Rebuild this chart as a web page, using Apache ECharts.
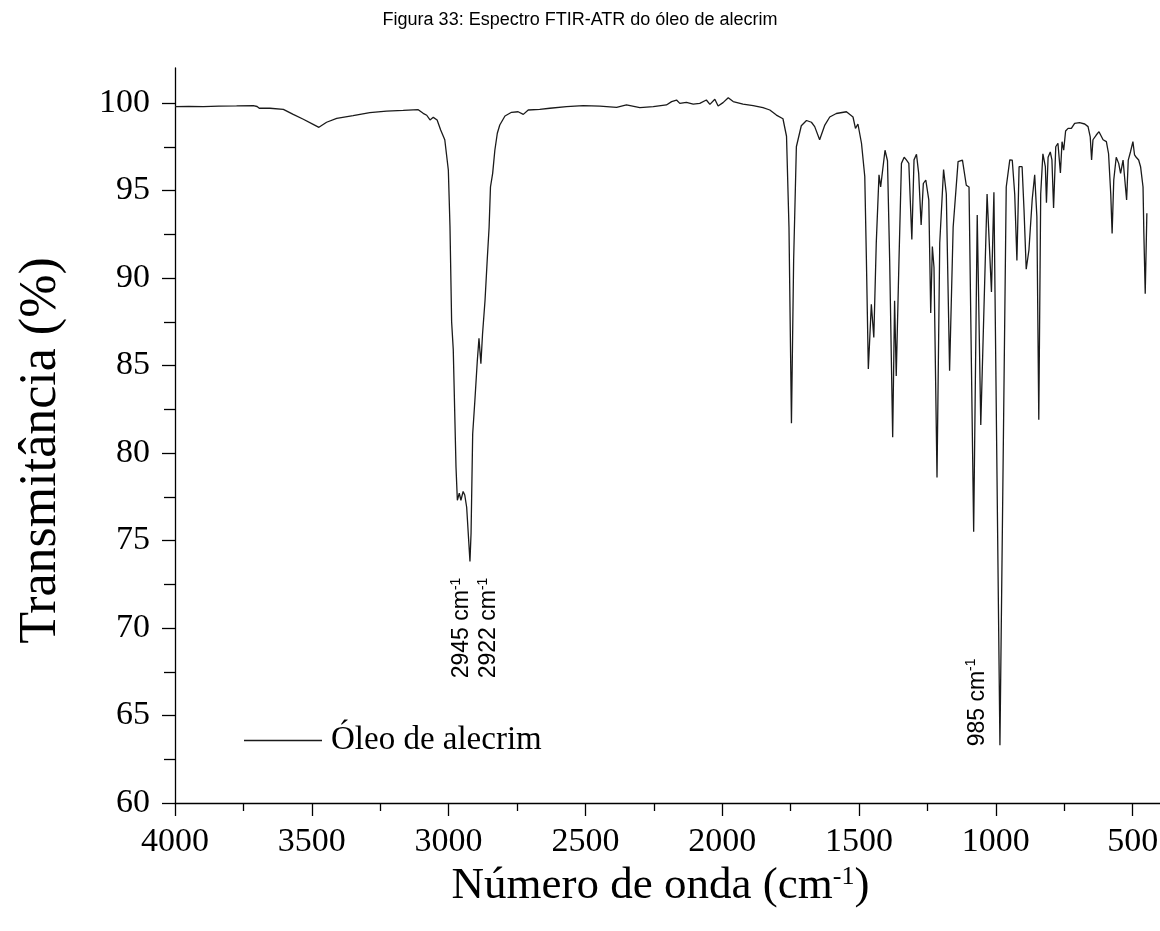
<!DOCTYPE html>
<html>
<head>
<meta charset="utf-8">
<script src="https://cdn.jsdelivr.net/npm/echarts@6/dist/echarts.min.js"></script>
<style>
html,body{margin:0;padding:0;background:#fff;}
#chart{width:1160px;height:931px;}
</style>
</head>
<body>
<div id="chart"></div>
<script>
// ---- Data ----
const waveNumbers = [4000,3950,3896,3840,3775,3714,3700,3692,3653,3604,3568,3531,3495,3474,3446,3409,3349,3288,3227,3166,3111,3093,3080,3068,3056,3042,3029,3014,3001,2995,2989,2983,2973,2968,2961,2955,2947,2941,2934,2922,2918,2912,2904,2895,2889,2882,2876,2867,2859,2852,2847,2839,2831,2822,2813,2794,2770,2746,2727,2709,2667,2630,2569,2508,2447,2386,2350,2301,2252,2204,2185,2167,2155,2131,2106,2082,2058,2045,2027,2015,1997,1978,1960,1924,1887,1851,1826,1802,1778,1765,1756,1747,1739,1729,1711,1692,1674,1662,1644,1625,1607,1583,1546,1522,1513,1504,1491,1479,1473,1466,1455,1446,1437,1427,1421,1405,1396,1388,1377,1370,1364,1354,1345,1335,1327,1318,1307,1299,1290,1282,1273,1265,1256,1245,1238,1232,1226,1215,1205,1191,1181,1169,1156,1138,1122,1108,1098,1081,1068,1055,1032,1016,1007,985,962,949,940,931,923,915,904,897,889,879,867,858,850,843,836,828,819,815,809,801,795,789,781,773,764,758,752,745,736,724,712,694,675,663,655,650,645,633,623,608,596,588,580,575,569,560,551,544,535,529,522,516,508,499,493,487,478,471,462,459,454,448];
const transmittance = [99.79,99.8,99.79,99.82,99.83,99.85,99.8,99.7,99.7,99.64,99.35,99.07,98.78,98.61,98.9,99.12,99.28,99.45,99.54,99.58,99.62,99.41,99.3,99.03,99.18,99.03,98.46,97.9,96.17,92.94,87.5,85.9,79.2,77.3,77.7,77.3,77.8,77.6,76.9,73.8,75.4,81.1,83.0,85.3,86.55,85.1,86.8,88.7,91.0,92.9,95.2,95.98,97.3,98.27,98.74,99.26,99.47,99.5,99.35,99.6,99.64,99.7,99.79,99.85,99.82,99.75,99.89,99.73,99.79,99.89,100.08,100.17,99.98,100.04,99.94,99.98,100.17,99.92,100.21,99.83,100.02,100.3,100.08,99.94,99.85,99.73,99.6,99.31,99.1,98.1,92.9,81.7,91.0,97.5,98.7,99.0,98.9,98.65,97.9,98.74,99.2,99.4,99.5,99.2,98.55,98.8,97.7,95.8,91.0,84.8,88.5,86.6,92.0,95.9,95.2,97.3,96.7,91.0,80.9,88.7,84.4,91.0,96.55,96.9,96.75,96.55,92.2,96.75,97.07,95.98,93.03,95.4,95.6,94.46,88.0,91.8,90.6,78.6,92.0,96.2,94.8,84.7,92.9,96.65,96.74,95.3,95.2,75.5,93.6,81.6,94.8,89.2,94.9,63.3,95.2,96.75,96.74,94.8,91.0,96.36,96.36,93.9,90.5,91.6,94.5,95.9,93.5,81.9,94.8,97.1,96.36,94.3,96.9,97.2,96.75,94.0,97.5,97.7,96.0,97.79,97.3,98.4,98.55,98.55,98.84,98.88,98.8,98.65,98.07,96.74,97.9,98.17,98.36,97.9,97.79,97.1,94.8,92.55,95.6,96.9,96.55,95.98,96.74,96.84,94.46,96.74,97.2,97.79,97.03,96.9,96.74,96.36,95.2,92.55,89.1,93.7];

const seriesName = 'Óleo de alecrim';
const xMajorTicks = [4000,3500,3000,2500,2000,1500,1000,500];
const xMinorTicks = [3750,3250,2750,2250,1750,1250,750];
const yMajorTicks = [60,65,70,75,80,85,90,95,100];
const yMinorTicks = [62.5,67.5,72.5,77.5,82.5,87.5,92.5,97.5];
// peak annotations: label text and the data-space point where the rotated label is centred
const peakLabelText = ['2945', '2922', '985'];
const peakLabelAt = [[2951, 70.0], [2852, 70.0], [1068, 65.75]];

const pairs = waveNumbers.map((w, i) => [w, transmittance[i]]);

const serif = '"Liberation Serif", "Times New Roman", serif';
const sans = '"Liberation Sans", Arial, sans-serif';
const plain = v => String(v);

const chart = echarts.init(document.getElementById('chart'), null, {renderer: 'canvas'});
chart.setOption({
  backgroundColor: '#ffffff',
  animation: false,
  title: {
    text: 'Figura 33: Espectro FTIR-ATR do óleo de alecrim',
    left: 'center',
    top: 6,
    textStyle: {fontFamily: sans, fontSize: 18, fontWeight: 'normal', color: '#000'}
  },
  legend: {
    show: true,
    left: 244,
    top: 724,
    padding: 0,
    icon: 'rect',
    itemWidth: 78,
    itemHeight: 1.4,
    data: [seriesName],
    textStyle: {fontFamily: serif, fontSize: 33, color: '#000', padding: [0, 0, 0, 4]}
  },
  grid: {left: 175, right: 0, top: 68, bottom: 128, containLabel: false, outerBoundsMode: 'none'},
  xAxis: [{
    type: 'value',
    min: 400,
    max: 4000,
    inverse: true,
    name: 'Número de onda (cm{s|-1})',
    nameLocation: 'middle',
    nameGap: 49,
    nameTextStyle: {
      fontFamily: serif, fontSize: 45, color: '#000', padding: [0, 14, 0, 0],
      rich: {s: {fontFamily: serif, fontSize: 26, color: '#000', verticalAlign: 'top', lineHeight: 40}}
    },
    axisLine: {show: true, onZero: false, lineStyle: {color: '#000', width: 1.3}},
    axisTick: {show: true, inside: false, length: 13, customValues: xMajorTicks, lineStyle: {color: '#000', width: 1.3}},
    axisLabel: {show: true, customValues: xMajorTicks, formatter: plain, margin: 22, fontFamily: serif, fontSize: 34, color: '#000'},
    splitLine: {show: false}
  }, {
    type: 'value',
    min: 400,
    max: 4000,
    inverse: true,
    position: 'bottom',
    axisLine: {show: false},
    axisTick: {show: true, inside: false, length: 8, customValues: xMinorTicks, lineStyle: {color: '#000', width: 1.3}},
    axisLabel: {show: false},
    splitLine: {show: false}
  }],
  yAxis: [{
    type: 'value',
    min: 60,
    max: 102,
    name: 'Transmitância (%)',
    nameLocation: 'middle',
    nameGap: 108,
    nameTextStyle: {fontFamily: serif, fontSize: 52, color: '#000', padding: [0, 30, 0, 0]},
    axisLine: {show: true, onZero: false, lineStyle: {color: '#000', width: 1.3}},
    axisTick: {show: true, inside: false, length: 13, customValues: yMajorTicks, lineStyle: {color: '#000', width: 1.3}},
    axisLabel: {show: true, customValues: yMajorTicks, formatter: plain, margin: 25, fontFamily: serif, fontSize: 34, color: '#000'},
    splitLine: {show: false}
  }, {
    type: 'value',
    min: 60,
    max: 102,
    position: 'left',
    axisLine: {show: false},
    axisTick: {show: true, inside: false, length: 11, customValues: yMinorTicks, lineStyle: {color: '#000', width: 1.3}},
    axisLabel: {show: false},
    splitLine: {show: false}
  }],
  series: [{
    name: seriesName,
    type: 'line',
    xAxisIndex: 0,
    yAxisIndex: 0,
    data: pairs,
    symbol: 'none',
    smooth: false,
    lineStyle: {color: '#1a1a1a', width: 1.3},
    itemStyle: {color: '#1a1a1a'},
    markPoint: {
      symbol: 'circle',
      symbolSize: 1,
      itemStyle: {color: 'rgba(0,0,0,0)'},
      silent: true,
      label: {
        show: true,
        position: 'inside',
        rotate: 90,
        color: '#000',
        formatter: p => '{a|' + p.name + ' cm}{s|-1}',
        rich: {
          a: {fontFamily: sans, fontSize: 23, color: '#000', lineHeight: 26},
          s: {fontFamily: sans, fontSize: 14, color: '#000', verticalAlign: 'top', lineHeight: 26}
        }
      },
      data: peakLabelText.map((t, i) => ({name: t, coord: peakLabelAt[i]}))
    }
  }]
});
</script>
</body>
</html>
